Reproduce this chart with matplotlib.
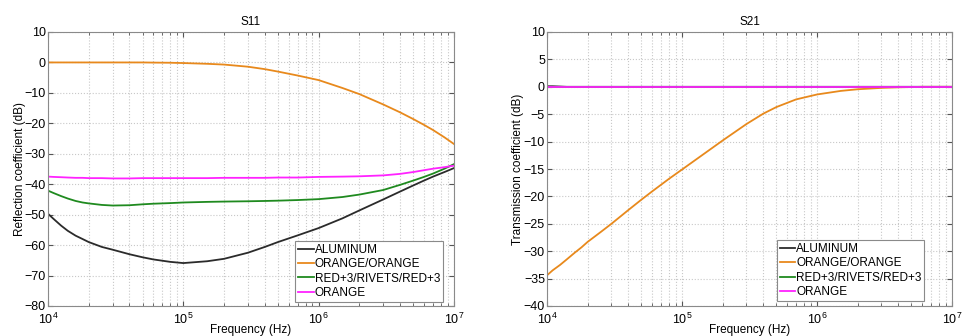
"""
    S11 / S21 comparison of gasket samples
"""

import numpy as np
import matplotlib
matplotlib.use("Agg")
import matplotlib.pyplot as plt

#####################################################################################################

labels = ["ALUMINUM", "ORANGE/ORANGE", "RED+3/RIVETS/RED+3", "ORANGE"]
colors = ["#2b2b2b", "#e8891c", "#1f8a1f", "#ff22ff"]

# frequency points (Hz)
freq = [1e4, 1.1e4, 1.25e4, 1.4e4, 1.6e4, 1.8e4, 2e4, 2.5e4, 3e4, 4e4, 5e4, 6e4, 8e4, 1e5,
        1.5e5, 2e5, 3e5, 4e5, 5e5, 7e5, 1e6, 1.5e6, 2e6, 3e6, 4e6, 5e6, 6e6, 7e6, 8.5e6, 1e7]

s11_aluminum = [-49.7, -51.4, -53.6, -55.3, -56.9, -58.0, -59.0, -60.6, -61.5, -63.0, -64.0,
                -64.7, -65.5, -65.9, -65.3, -64.5, -62.5, -60.6, -59.0, -56.8, -54.4, -51.2,
                -48.6, -45.0, -42.4, -40.4, -38.8, -37.5, -36.0, -34.7]
s11_orange_orange = [0.0, 0.0, 0.0, 0.0, 0.0, 0.0, 0.0, 0.0, 0.0, 0.0, 0.0, -0.05, -0.1, -0.2,
                     -0.45, -0.7, -1.4, -2.2, -3.0, -4.3, -5.8, -8.4, -10.4, -13.8, -16.4,
                     -18.6, -20.5, -22.2, -24.6, -26.8]
s11_red_rivets = [-42.1, -42.9, -43.9, -44.7, -45.5, -46.0, -46.3, -46.8, -47.0, -46.9, -46.6,
                  -46.4, -46.2, -46.0, -45.8, -45.7, -45.6, -45.5, -45.4, -45.2, -44.9, -44.2,
                  -43.4, -41.9, -40.2, -38.8, -37.6, -36.5, -34.9, -33.4]
s11_orange = [-37.5, -37.6, -37.7, -37.8, -37.9, -37.9, -38.0, -38.0, -38.1, -38.1, -38.0,
              -38.0, -38.0, -38.0, -38.0, -37.9, -37.9, -37.9, -37.8, -37.8, -37.6, -37.5,
              -37.4, -37.1, -36.6, -36.0, -35.4, -34.9, -34.4, -33.9]

s21_aluminum = [0.1, 0.1, 0.05, 0.0, 0.0, 0.0, 0.0, 0.0, 0.0, 0.0, 0.0, 0.0, 0.0, 0.0, 0.0,
                0.0, 0.0, 0.0, 0.0, 0.0, 0.0, 0.0, 0.0, 0.0, 0.0, 0.0, 0.0, 0.0, 0.0, 0.0]
s21_orange_orange = [-34.4, -33.5, -32.5, -31.5, -30.3, -29.3, -28.3, -26.5, -25.0, -22.5,
                     -20.6, -19.1, -16.8, -15.1, -12.0, -9.8, -6.8, -4.9, -3.7, -2.3, -1.4,
                     -0.75, -0.45, -0.2, -0.1, -0.05, 0.0, 0.0, 0.0, 0.0]
s21_red_rivets = [-0.1] * len(freq)
s21_orange = [-0.1] * len(freq)

#####################################################################################################

def style_axis(ax, ylim, yticks, ylabel, title, leg_anchor, ylabelpad):
    ax.set_xscale("log")
    ax.set_xlim(1e4, 1e7)
    ax.set_ylim(*ylim)
    ax.set_yticks(yticks)
    ax.set_xticks([1e4, 1e5, 1e6, 1e7])
    ax.grid(True, which="both", color="#c8c8c8", linestyle=":", linewidth=0.8)
    ax.tick_params(which="both", direction="in", top=True, right=True, labelsize=9,
                   color="#555555")
    ax.tick_params(axis="x", pad=4)
    ax.tick_params(axis="y", pad=1.5)
    for sp in ax.spines.values():
        sp.set_color("#8a8a8a")
    ax.set_xlabel("Frequency (Hz)", fontsize=8.5, labelpad=-2)
    ax.set_ylabel(ylabel, fontsize=8.5, labelpad=ylabelpad)
    ax.set_title(title, fontsize=8.5, pad=5)
    leg = ax.legend(loc="lower right", bbox_to_anchor=leg_anchor, fontsize=8.5,
                    handlelength=1.3, handletextpad=0.1, borderpad=0.25, labelspacing=0.2,
                    fancybox=False, framealpha=1, borderaxespad=0)
    leg.get_frame().set_edgecolor("#8a8a8a")
    leg.get_frame().set_linewidth(0.8)


plt.rcParams["font.family"] = ["Liberation Sans", "DejaVu Sans"]
fig = plt.figure(figsize=(9.63, 3.36), dpi=100)
ax1 = fig.add_axes([48 / 963, 1 - 306 / 336, 406 / 963, 274 / 336])
ax2 = fig.add_axes([547 / 963, 1 - 306 / 336, 405 / 963, 274 / 336])

for y, c, lab in zip([s11_aluminum, s11_orange_orange, s11_red_rivets, s11_orange], colors, labels):
    ax1.plot(freq, y, color=c, linewidth=1.3, label=lab)
for y, c, lab in zip([s21_aluminum, s21_orange_orange, s21_red_rivets, s21_orange], colors, labels):
    ax2.plot(freq, y, color=c, linewidth=1.3, label=lab)

style_axis(ax1, (-80, 10), np.arange(-80, 11, 10), "Reflection coefficient (dB)", "S11",
           (0.973, 0.015), -1)
style_axis(ax2, (-40, 10), np.arange(-40, 11, 5), "Transmission coefficient (dB)", "S21",
           (0.932, 0.018), 0)

fig.savefig("out.png", dpi=100)
